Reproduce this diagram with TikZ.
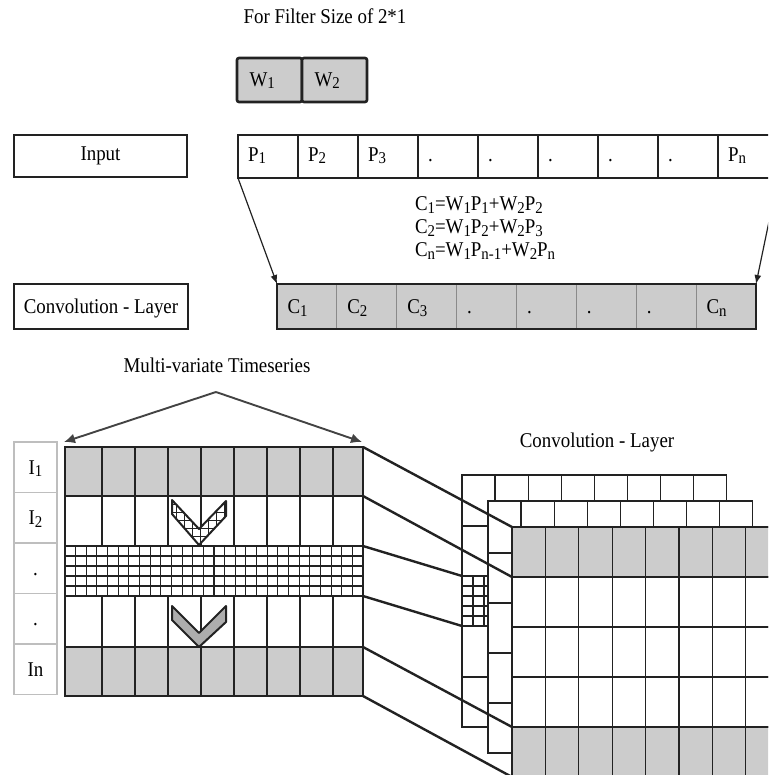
\documentclass[tikz,border=0pt]{standalone}
\usepackage{fontspec}
\setmainfont{Liberation Serif}[FakeStretch=0.9]
\usetikzlibrary{arrows.meta}

\definecolor{ink}{HTML}{222222}
\definecolor{cellgray}{HTML}{CCCCCC}
\definecolor{divgray}{HTML}{8A8A8A}
\definecolor{rim}{HTML}{BEBEBE}

\newcommand{\bodyfont}{\fontsize{21}{24}\selectfont}
\newcommand{\lowidx}[1]{\raisebox{-2.5pt}{\fontsize{16.5}{16.5}\selectfont #1}}

\begin{document}
\begin{tikzpicture}[x=1pt,y=-1pt,
  txt/.style={font=\bodyfont, inner sep=0pt, outer sep=0pt},
  pcell/.style={txt, draw=ink, line width=1.4pt, anchor=north west,
    minimum height=43pt, text width=40pt, inner xsep=10pt, align=left,
    text height=14pt, text depth=4pt},
  ccell/.style={txt, fill=cellgray, draw=divgray, line width=0.9pt, anchor=north west,
    minimum height=45pt, text width=38.875pt, inner xsep=10.5pt, align=left,
    text height=14pt, text depth=0pt},
  wcell/.style={txt, fill=cellgray, draw=ink, line width=2.6pt, rounded corners=2pt,
    anchor=north west, minimum height=44pt, text width=40pt, inner xsep=12.5pt,
    align=left, text height=14pt, text depth=1pt},
  plainbox/.style={txt, draw=ink, anchor=north west, text height=14pt},
  labcell/.style={txt, draw=rim, line width=1.4pt, minimum width=43pt,
    minimum height=50.5pt, text height=14pt, text depth=0pt},
  arr/.style={draw=ink, line width=1.2pt, -{Latex[length=9pt,width=7pt]}},
  bigarr/.style={draw=ink!85, line width=1.9pt, -{Latex[length=11pt,width=10pt]}},
  gridln/.style={draw=ink, line width=1.3pt},
  thickln/.style={draw=ink, line width=2.8pt},
  link/.style={draw=ink, line width=2.4pt}]

\useasboundingbox (0,0) rectangle (768,775);
\clip (0,0) rectangle (768,775);

% ---------- 1-D convolution ----------
\node[txt, anchor=base] (title) at (325,24) {For Filter Size of 2*1};

\node[wcell] (w1) at (237,58) {W\lowidx{1}};
\node[wcell] (w2) at (302,58) {W\lowidx{2}};

\node[plainbox, line width=1.4pt, minimum width=173pt, minimum height=42pt,
      text depth=4pt] (input) at (14,135) {Input};

\foreach \t [count=\i] in {P\lowidx{1},P\lowidx{2},P\lowidx{3},.,.,.,.,.,P\lowidx{n}}
  \node[pcell] (p\i) at ({238+60*(\i-1)},135) {\t};

\node[txt, anchor=base west] (f1) at (415,211) {C\lowidx{1}=W\lowidx{1}P\lowidx{1}+W\lowidx{2}P\lowidx{2}};
\node[txt, anchor=base west] (f2) at (415,234) {C\lowidx{2}=W\lowidx{1}P\lowidx{2}+W\lowidx{2}P\lowidx{3}};
\node[txt, anchor=base west] (f3) at (415,257) {C\lowidx{n}=W\lowidx{1}P\lowidx{n-1}+W\lowidx{2}P\lowidx{n}};

\node[plainbox, line width=2.6pt, minimum width=174pt, minimum height=45pt,
      text depth=0pt] (convbox) at (14,284) {Convolution - Layer};

\foreach \t [count=\i] in {C\lowidx{1},C\lowidx{2},C\lowidx{3},.,.,.,.,C\lowidx{n}}
  \node[ccell] (c\i) at ({277+59.875*(\i-1)},284) {\t};
\draw[ink, line width=2.6pt] (c1.north west) rectangle (c8.south east);

\draw[arr] (p1.south west) -- (c1.north west);
\draw[arr] (p9.south east) -- (c8.north east);

% ---------- multivariate input ----------
\node[txt, anchor=base] (mvt) at (217,372) {Multi-variate Timeseries};
\coordinate (apex) at (216,392);
\coordinate (spanl) at (64,442);
\coordinate (spanr) at (362,442);
\draw[bigarr] (apex) -- (spanl);
\draw[bigarr] (apex) -- (spanr);

\foreach \t [count=\i] in {I\lowidx{1},I\lowidx{2},.,.,In}
  \node[labcell] (i\i) at (35.5,{467.25+50.5*(\i-1)}) {\t};

% shaded rows
\fill[cellgray] (65,447) rectangle (363,496);
\fill[cellgray] (65,647) rectangle (363,696);
% column lines
\foreach \x in {102,135,168,201,234,267,300,333} {
  \draw[gridln] (\x,447) -- (\x,546);
  \draw[gridln] (\x,596) -- (\x,696);
}
% fine-grid row
\foreach \k in {1,...,27}
  \draw[gridln, line width=1.1pt] ({65+10.643*\k},546) -- ({65+10.643*\k},596);
\foreach \y in {556,566,576,586}
  \draw[gridln, line width=1.1pt] (65,\y) -- (363,\y);
% frame
\draw[gridln] (65,447) rectangle (363,696);
\foreach \y in {496,546,596,647}
  \draw[gridln] (65,\y) -- (363,\y);
\draw[thickln] (65,447) rectangle (363,496);
\draw[thickln] (65,546) rectangle (363,596);
\draw[thickln] (65,647) rectangle (363,696);

% hatched chevron
\begin{scope}
  \clip (172,500) -- (172,514) -- (199,545) -- (226,516) -- (226,501) -- (199,529) -- cycle;
  \fill[white] (168,496) rectangle (230,548);
  \foreach \x in {176,184,192,200,208,216,224}
    \draw[ink, line width=1pt] (\x,496) -- (\x,548);
  \foreach \y in {504,512,520,528,536,544}
    \draw[ink, line width=1pt] (168,\y) -- (230,\y);
\end{scope}
\draw[ink, line width=2pt, line join=round]
  (172,500) -- (172,514) -- (199,545) -- (226,516) -- (226,501) -- (199,529) -- cycle;

% shaded chevron
\draw[ink, fill=cellgray!85!black, line width=2pt, line join=round]
  (172,606) -- (172,620) -- (199,647) -- (226,622) -- (226,606) -- (199,633) -- cycle;

% ---------- stacked feature maps ----------
\node[txt, anchor=base] (convlab) at (597,447) {Convolution - Layer};

% back map
\foreach \k in {0,...,7}
  \foreach \ya/\yb in {475/526,526/576,576/626,626/677,677/727}
    \draw[gridln, fill=white] ({462+33.1*\k},\ya) rectangle ({462+33.1*(\k+1)},\yb);
% filter window on the back map
\draw[gridln, fill=white] (462,576) rectangle (488,626);
\foreach \x in {473,484}
  \draw[ink, line width=1.1pt] (\x,576) -- (\x,626);
\foreach \y in {586,596,606,616}
  \draw[ink, line width=1.1pt] (462,\y) -- (488,\y);
\draw[thickln] (462,576) rectangle (488,626);

% middle map
\foreach \k in {0,...,7}
  \foreach \ya/\yb in {501/553,553/603,603/653,653/703,703/753}
    \draw[gridln, fill=white] ({488+33.1*\k},\ya) rectangle ({488+33.1*(\k+1)},\yb);

% front map
\foreach \k in {0,...,7}
  \foreach \ya/\yb/\c in {527/577/cellgray,577/627/white,627/677/white,677/727/white,727/777/cellgray}
    \draw[gridln, fill=\c] ({512+33.4*\k},\ya) rectangle ({512+33.4*(\k+1)},\yb);
\draw[thickln] (512,527) rectangle (790,577);
\draw[thickln] (512,727) rectangle (790,777);

% ---------- links between input rows and maps ----------
\coordinate (a0) at (363,447);  \coordinate (b0) at (512,527);
\coordinate (a1) at (363,496);  \coordinate (b1) at (512,577);
\coordinate (a2) at (363,546);  \coordinate (b2) at (462,576);
\coordinate (a3) at (363,596);  \coordinate (b3) at (462,626);
\coordinate (a4) at (363,647);  \coordinate (b4) at (512,727);
\coordinate (a5) at (363,696);  \coordinate (b5) at (512,777);
\foreach \i in {0,...,5}
  \draw[link] (a\i) -- (b\i);

\end{tikzpicture}
\end{document}
